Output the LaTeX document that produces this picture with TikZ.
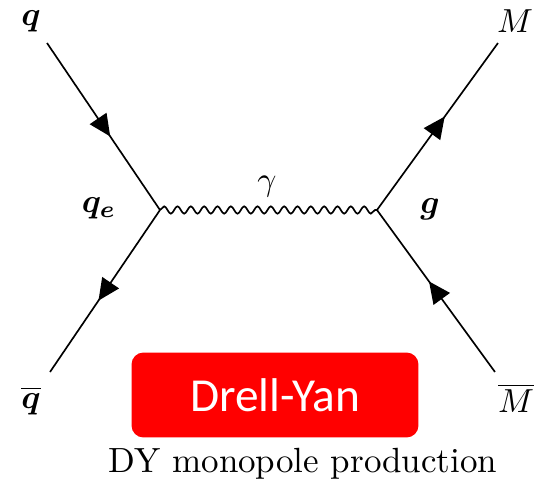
\documentclass[tikz,border=0pt]{standalone}
\usepackage{fontspec}
\usepackage{bm}
\newfontfamily\boxfont{Carlito}
\usetikzlibrary{arrows.meta,decorations.markings,decorations.pathmorphing}
\tikzset{
  fermion/.style={line width=0.5pt, postaction={decorate},
    decoration={markings, mark=at position 0.56 with {\arrow{Triangle[length=6.5pt,width=6pt]}}}},
  photon/.style={line width=0.5pt, decorate,
    decoration={snake, amplitude=1.1pt, segment length=4pt}},
  lbl/.style={anchor=base, inner sep=0pt},
}
\begin{document}
\begin{tikzpicture}[x=0.3pt, y=-0.3pt]
  \useasboundingbox (0,0) rectangle (540,484);
  \coordinate (qin) at (47,43);
  \coordinate (qbar) at (50,372);
  \coordinate (vl) at (160,210);
  \coordinate (vr) at (377,210);
  \coordinate (mout) at (498,43);
  \coordinate (mbar) at (495,372);
  \draw [fermion] (qin) -- (vl);
  \draw [fermion] (vl) -- (qbar);
  \draw [fermion] (vr) -- (mout);
  \draw [fermion] (mbar) -- (vr);
  \draw [photon] (vl) -- (vr);
  \node [lbl] (q) at (31,25) {$\bm{q}$};
  \node [lbl] (qe) at (99,212) {$\bm{q_e}$};
  \node [lbl] (gam) at (267,190) {$\gamma$};
  \node [lbl] (g) at (430,213) {$\bm{g}$};
  \node [lbl] (M) at (515,32) {$M$};
  \node [lbl] (Mb) at (516,413) {$\overline{M}$};
  \node [lbl] (qb) at (31,408) {$\overline{\bm{q}}$};
  \node [fill=red, rounded corners=3.6pt, minimum width=86.1pt, minimum height=25.5pt,
    text=white, font=\boxfont\fontsize{14.2}{16}\selectfont] (dy) at (275,395) {Drell-Yan};
  \node [lbl, font=\fontsize{10.5}{12}\selectfont] (cap) at (303,473) {DY monopole production};
\end{tikzpicture}
\end{document}
